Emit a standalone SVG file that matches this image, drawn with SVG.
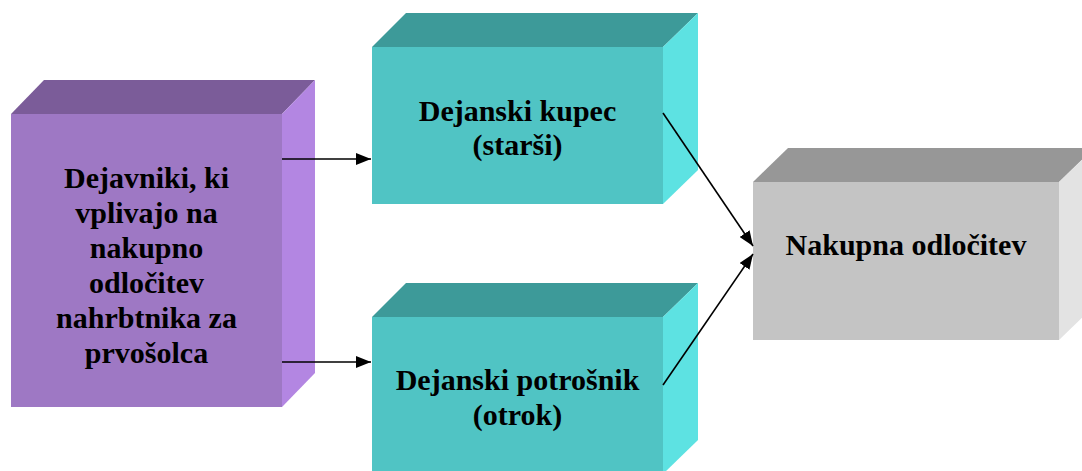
<svg xmlns="http://www.w3.org/2000/svg" width="1082" height="471" viewBox="0 0 1082 471">
<style>
.t{font-family:"Liberation Serif","Times New Roman",serif;font-weight:bold;font-size:30px;fill:#000;text-anchor:middle}
.c{stroke:#000;stroke-width:1.6;fill:none}
</style>
<defs>
<marker id="ah" markerWidth="15" markerHeight="12" refX="15" refY="6" orient="auto" markerUnits="userSpaceOnUse" viewBox="0 0 15 12">
<path d="M0,0 L15,6 L0,12 z" fill="#000"/>
</marker>
</defs>
<rect width="1082" height="471" fill="#fff"/>
<g id="node-factors">
<polygon points="11,114 44,80 315,80 282,114" fill="#7b5c99"/>
<polygon points="282,114 315,80 315,373 282,407" fill="#b386e2"/>
<rect x="11" y="114" width="271" height="293" fill="#9e78c4"/>
<text class="t" x="146.5" y="188">Dejavniki, ki</text>
<text class="t" x="146.5" y="223">vplivajo na</text>
<text class="t" x="146.5" y="258">nakupno</text>
<text class="t" x="146.5" y="293">odločitev</text>
<text class="t" x="146.5" y="328">nahrbtnika za</text>
<text class="t" x="146.5" y="363">prvošolca</text>
</g>
<g id="node-buyer">
<polygon points="372,47 406,13 698,13 663,47" fill="#3d9a99"/>
<polygon points="663,47 698,13 698,170 663,204" fill="#5de2e2"/>
<rect x="372" y="47" width="291" height="157" fill="#50c4c4"/>
<text class="t" x="517.5" y="121">Dejanski kupec</text>
<text class="t" x="517.5" y="155">(starši)</text>
</g>
<g id="node-consumer">
<polygon points="372,317 406,283 698,283 663,317" fill="#3d9a99"/>
<polygon points="663,317 698,283 698,440 663,474" fill="#5de2e2"/>
<rect x="372" y="317" width="291" height="157" fill="#50c4c4"/>
<text class="t" x="517.5" y="390">Dejanski potrošnik</text>
<text class="t" x="517.5" y="425">(otrok)</text>
</g>
<g id="node-decision">
<polygon points="753,182 788,148 1094,148 1059,182" fill="#979797"/>
<polygon points="1059,182 1094,148 1094,306 1059,340" fill="#e3e3e3"/>
<rect x="753" y="182" width="306" height="158" fill="#c4c4c4"/>
<text class="t" x="906" y="255">Nakupna odločitev</text>
</g>
<g id="connectors">
<line class="c" x1="282" y1="159" x2="371" y2="159" marker-end="url(#ah)"/>
<line class="c" x1="282" y1="362" x2="371" y2="362" marker-end="url(#ah)"/>
<line class="c" x1="663" y1="113" x2="753" y2="246" marker-end="url(#ah)"/>
<line class="c" x1="663" y1="385" x2="753" y2="254" marker-end="url(#ah)"/>
</g>
</svg>
